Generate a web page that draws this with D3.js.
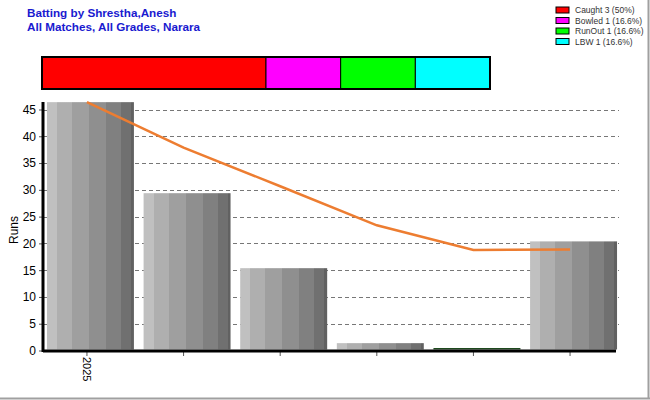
<!DOCTYPE html>
<html>
<head>
<meta charset="utf-8">
<script src="https://cdn.jsdelivr.net/npm/d3@7"></script>
<style>
  body { margin: 0; background: #fff; }
  svg { font-family: Arial, "Liberation Sans", sans-serif; }
</style>
</head>
<body>
<svg id="svg" width="650" height="400"></svg>
<script>
// innings, in order
var innings = ['2025', '2', '3', '4', '5', '6'];
var runs = [46, 29, 15, 1, 0, 20];
// running average
var average = [46, 37.5, 30.3, 23, 18.4, 18.5];

var dismissals = ['Caught 3 (50%)', 'Bowled 1 (16.6%)', 'RunOut 1 (16.6%)', 'LBW 1 (16.6%)'];
var dismissalCounts = [3, 1, 1, 1];
var dismissalColors = ['#ff0000', '#ff00ff', '#00ff00', '#00ffff'];

var yTicks = [0, 5, 10, 15, 20, 25, 30, 35, 40, 45];

var svg = d3.select('#svg');

// frame shadow
svg.append('line').attr('x1', 648.5).attr('x2', 648.5).attr('y1', 0).attr('y2', 399)
    .attr('stroke', '#a0a0a0').attr('stroke-width', 2);
svg.append('line').attr('x1', 0).attr('x2', 650).attr('y1', 398.5).attr('y2', 398.5)
    .attr('stroke', '#a0a0a0').attr('stroke-width', 2);

// titles
svg.append('text').attr('x', 27).attr('y', 17).text('Batting by Shrestha,Anesh')
    .attr('fill', '#1a1ad0').attr('font-weight', 'bold').attr('font-size', 11.7);
svg.append('text').attr('x', 27).attr('y', 31).text('All Matches, All Grades, Narara')
    .attr('fill', '#1a1ad0').attr('font-weight', 'bold').attr('font-size', 11.7);

// legend
var leg = svg.append('g').selectAll('g').data(dismissals).enter().append('g')
    .attr('transform', (d, i) => 'translate(556,' + (7 + i * 10.5) + ')');
leg.append('rect').attr('width', 13).attr('height', 6)
    .attr('fill', (d, i) => dismissalColors[i]).attr('stroke', '#000').attr('stroke-width', 1);
leg.append('text').attr('x', 19).attr('y', 6).text(d => d)
    .attr('font-size', 8.5).attr('fill', '#333');

// dismissal strip
var cum = d3.cumsum(dismissalCounts);
var xs = d3.scaleLinear().domain([0, d3.sum(dismissalCounts)]).range([42, 490]);
svg.append('g').selectAll('rect').data(dismissalCounts).enter().append('rect')
    .attr('x', (d, i) => xs(cum[i] - d))
    .attr('width', d => xs(d) - xs(0))
    .attr('y', 57).attr('height', 32)
    .attr('fill', (d, i) => dismissalColors[i])
    .attr('stroke', '#000').attr('stroke-width', 1);
svg.append('rect').attr('x', 42).attr('y', 57).attr('width', 448).attr('height', 32)
    .attr('fill', 'none').attr('stroke', '#000').attr('stroke-width', 2);

// scales
var x = d3.scaleBand().domain(innings).range([43, 621]).paddingInner(0.1).paddingOuter(0.041);
var y = d3.scaleLinear().domain([0, 45]).range([350.5, 109.5]);
var lift = 2; // bars sit a little above the axis scale (3d depth offset)

// gradient for bars
var defs = svg.append('defs');
var grad = defs.append('linearGradient').attr('id', 'barg').attr('x1', 0).attr('x2', 1).attr('y1', 0).attr('y2', 0);
var stripes = [[0, 0.115, '#c0c0c0'], [0.115, 0.287, '#afafaf'], [0.287, 0.483, '#9f9f9f'],
    [0.483, 0.678, '#8f8f8f'], [0.678, 0.85, '#808080'], [0.85, 0.965, '#707070'], [0.965, 1, '#616161']];
stripes.forEach(s => {
    grad.append('stop').attr('offset', s[0]).attr('stop-color', s[2]);
    grad.append('stop').attr('offset', s[1]).attr('stop-color', s[2]);
});

// grid
svg.append('g').selectAll('line').data(yTicks.slice(1)).enter().append('line')
    .attr('x1', 44).attr('x2', 619)
    .attr('y1', d => Math.round(y(d)) + 0.5).attr('y2', d => Math.round(y(d)) + 0.5)
    .attr('stroke', '#777').attr('stroke-dasharray', '4,3');

// bars
svg.append('g').selectAll('rect').data(runs).enter().append('rect')
    .attr('x', (d, i) => x(innings[i]))
    .attr('width', x.bandwidth())
    .attr('y', d => d > 0 ? y(d) - lift : y(0) - 2.5)
    .attr('height', d => d > 0 ? y(0) - y(d) + lift - 1 : 1.5)
    .attr('fill', d => d > 0 ? 'url(#barg)' : '#1e4a1e');

// axes
var yAxis = svg.append('g').attr('transform', 'translate(43,0)')
    .call(d3.axisLeft(y).tickValues(yTicks).tickSize(4).tickPadding(3));
yAxis.select('.domain').remove();
yAxis.selectAll('.tick line').attr('stroke', '#555');
yAxis.selectAll('.tick text').attr('font-size', 12).attr('fill', '#000')
    .attr('font-family', 'Arial, "Liberation Sans", sans-serif');
svg.append('line').attr('x1', 43).attr('x2', 43).attr('y1', 102).attr('y2', 352)
    .attr('stroke', '#000').attr('stroke-width', 3);

var tickX = d => x(d) + x.bandwidth() / 2 - 3.5;
svg.append('g').selectAll('line').data(innings).enter().append('line')
    .attr('x1', d => tickX(d)).attr('x2', d => tickX(d))
    .attr('y1', 351).attr('y2', 356).attr('stroke', '#555');
svg.append('line').attr('x1', 43).attr('x2', 616).attr('y1', 351).attr('y2', 351)
    .attr('stroke', '#000').attr('stroke-width', 3);
svg.append('text').text(innings[0])
    .attr('transform', 'translate(' + (tickX(innings[0]) - 4) + ',357) rotate(90)')
    .attr('font-size', 11).attr('fill', '#000');

svg.append('text').text('Runs').attr('transform', 'translate(18,230) rotate(-90)')
    .attr('text-anchor', 'middle').attr('font-size', 12);

// running average line
var line = d3.line().x((d, i) => tickX(innings[i])).y(d => y(d) - lift);
svg.append('path').datum(average).attr('d', line)
    .attr('fill', 'none').attr('stroke', '#ed7d31').attr('stroke-width', 2.5);
</script>
</body>
</html>
